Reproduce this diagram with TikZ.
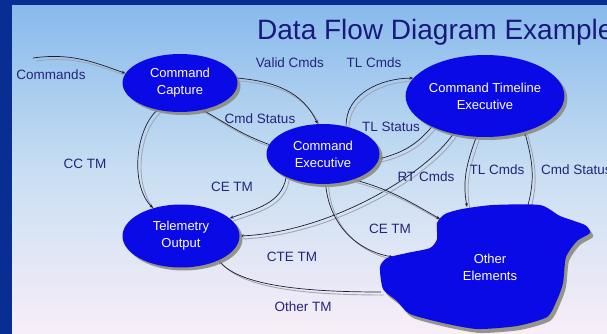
\documentclass[tikz,border=0pt]{standalone}
\usepackage{fontspec}
\setmainfont{Liberation Sans}
\usetikzlibrary{shapes.geometric,shadows,arrows.meta}
\definecolor{framec}{RGB}{8,46,148}
\definecolor{bgtop}{RGB}{136,186,236}
\definecolor{bgmid}{RGB}{200,222,242}
\definecolor{bgbot}{RGB}{248,238,248}
\definecolor{procfill}{RGB}{10,10,230}
\definecolor{shadowc}{RGB}{140,140,125}
\definecolor{linec}{RGB}{30,30,50}
\definecolor{lineshadow}{RGB}{165,165,175}
\definecolor{labelc}{RGB}{36,36,125}
\definecolor{titlec}{RGB}{25,25,125}
\pgfdeclarelayer{bglayer}
\pgfdeclarelayer{linelayer}
\pgfsetlayers{bglayer,linelayer,main}
\tikzset{
 proc/.style={ellipse, fill=procfill, text=white, align=center, inner sep=0pt,
   font=\fontsize{13}{17}\selectfont,
   drop shadow={shadow xshift=3pt, shadow yshift=-3pt, fill=shadowc, opacity=0.9}},
 lbl/.style={text=labelc, font=\fontsize{13.5}{16}\selectfont, inner sep=0pt},
 flow/.style={draw=linec, line width=0.7pt, -{Stealth[length=4pt,width=3pt]},
   preaction={draw=lineshadow, line width=0.9pt, -, transform canvas={shift={(3pt,-3pt)}}}},
}
\begin{document}
\begin{tikzpicture}[x=1pt,y=1pt]
\useasboundingbox (0,0) rectangle (607,-334);
\clip (0,0) rectangle (607,-334);
\begin{pgfonlayer}{bglayer}
\fill[framec] (0,0) rectangle (607,-334);
\shade[top color=bgtop, bottom color=bgbot, middle color=bgmid] (12,-6) rectangle (607,-334);
\end{pgfonlayer}
\node[anchor=base west, text=titlec, font=\fontsize{28}{30}\selectfont, inner sep=0pt] (title) at (257,-40) {Data Flow Diagram Example};
% processes
\node[proc, minimum width=115pt, minimum height=58pt] (cc) at (180,-83) {Command\\Capture};
\node[proc, minimum width=113pt, minimum height=60pt] (ce) at (323,-154) {Command\\Executive};
\node[proc, minimum width=156pt, minimum height=82pt] (cte) at (485,-96) {Command Timeline\\Executive};
\node[proc, minimum width=117pt, minimum height=63pt] (tlm) at (181,-236) {Telemetry\\Output};
% other elements blob
\fill[shadowc, opacity=.9, shift={(3,-4)}] plot[smooth cycle, tension=0.4] coordinates {(437,-223) (445,-214) (462,-209) (493,-205) (540,-205) (560,-216) (585,-225) (590,-233) (577,-241) (566,-257) (563,-283) (557,-300) (547,-317) (517,-326) (477,-329) (443,-323) (410,-314) (397,-301) (383,-289) (380,-267) (387,-258) (407,-253) (430,-248) (437,-239)};
\fill[procfill] plot[smooth cycle, tension=0.4] coordinates {(437,-223) (445,-214) (462,-209) (493,-205) (540,-205) (560,-216) (585,-225) (590,-233) (577,-241) (566,-257) (563,-283) (557,-300) (547,-317) (517,-326) (477,-329) (443,-323) (410,-314) (397,-301) (383,-289) (380,-267) (387,-258) (407,-253) (430,-248) (437,-239)};
\node[text=white, align=center, font=\fontsize{13}{17}\selectfont, inner sep=0pt] (oe) at (490,-267) {Other\\Elements};
% connector end points
\coordinate (cmdsrc) at (33,-58);
\coordinate (oert) at (440,-219);
\coordinate (oecetm) at (393,-257);
\coordinate (oetm) at (381,-292);
\coordinate (oetl) at (467,-207);
\coordinate (oecs) at (528,-205);
% labels
\node[lbl] (lcmds) at (51,-75) {Commands};
\node[lbl] (lvalid) at (290,-63) {Valid Cmds};
\node[lbl] (ltlc1) at (374,-63) {TL Cmds};
\node[lbl] (lcs1) at (260,-119) {Cmd Status};
\node[lbl] (ltls) at (391,-127) {TL Status};
\node[lbl] (lcctm) at (85,-164) {CC TM};
\node[lbl] (lcetm1) at (232,-187) {CE TM};
\node[lbl] (lrt) at (426,-177) {RT Cmds};
\node[lbl] (ltlc2) at (497,-170) {TL Cmds};
\node[lbl, anchor=west] (lcs2) at (541,-170) {Cmd Status};
\node[lbl] (lcetm2) at (390,-229) {CE TM};
\node[lbl] (lctetm) at (292,-257) {CTE TM};
\node[lbl] (lotm) at (303,-307) {Other TM};
% connectors
\begin{pgfonlayer}{linelayer}
\draw[flow] (cmdsrc) to[out=8, in=160] (cc.170);
\draw[flow] (cc.5) to[out=-5, in=115] (ce.100);
\draw[flow] (ce.170) to[out=160, in=-30] (cc.-50);
\draw[flow] (cc.-130) .. controls (135,-130) and (130,-185) .. (tlm.135);
\draw[flow] (ce.-148) to[out=-100, in=20] (tlm.20);
\draw[flow] (ce.50) to[out=92, in=180] (cte.166);
\draw[flow] (cte.-150) to[out=-130, in=15] (ce.-5);
\draw[flow] (cte.-130) .. controls (425,-175) and (330,-232) .. (tlm.0);
\draw[flow] (ce.-40) to[out=-15, in=150] (oert);
\draw[flow] (ce.-85) to[out=-85, in=170] (oecetm);
\draw[flow] (oetm) .. controls (300,-292) and (240,-285) .. (tlm.-33);
\draw[flow] (cte.-102) to[out=-110, in=100] (oetl);
\draw[flow] (oecs) to[out=75, in=-75] (cte.-42);
\end{pgfonlayer}
\end{tikzpicture}
\end{document}
